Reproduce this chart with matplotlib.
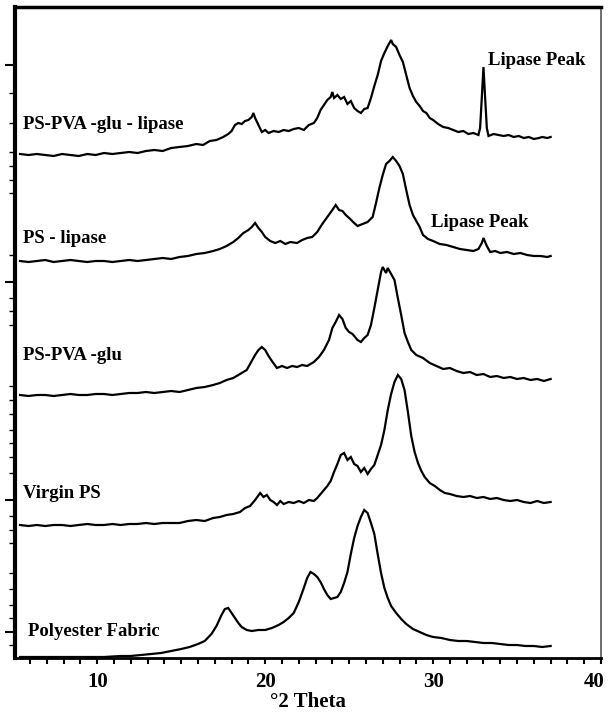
import matplotlib
matplotlib.use("Agg")
import matplotlib.pyplot as plt
import matplotlib.transforms as mtransforms
from matplotlib.ticker import MultipleLocator, FixedLocator

# ---------------- data ----------------
two_theta_lipase_pva = [5.4, 5.9, 6.4, 6.9, 7.4, 7.9, 8.4, 8.9, 9.4, 9.9, 10.4, 10.9, 11.4, 11.9, 12.4, 12.9,
    13.4, 13.9, 14.4, 14.9, 15.4, 15.9, 16.3, 16.7, 17.1, 17.5, 17.8, 18.0, 18.2, 18.4, 18.6, 18.8, 19.0, 19.2,
    19.3, 19.4, 19.6, 19.8, 20.0, 20.2, 20.5, 20.8, 21.1, 21.4, 21.7, 22.0, 22.3, 22.6, 22.9, 23.1, 23.3, 23.5,
    23.7, 23.9, 24.0, 24.1, 24.3, 24.5, 24.7, 24.9, 25.1, 25.3, 25.5, 25.7, 25.9, 26.1, 26.3, 26.5, 26.7, 26.9,
    27.1, 27.3, 27.5, 27.6, 27.8, 28.0, 28.2, 28.4, 28.6, 28.8, 29.0, 29.2, 29.4, 29.6, 29.8, 30.0, 30.3, 30.6,
    30.9, 31.2, 31.5, 31.8, 32.1, 32.4, 32.7, 32.8, 32.9, 33.0, 33.1, 33.2, 33.3, 33.6, 33.9, 34.2, 34.5, 34.8,
    35.1, 35.4, 35.7, 36.0, 36.3, 36.5, 36.8, 37.0]
int_lipase_pva = [504, 503, 504, 503, 502, 504, 503, 502, 504, 503, 505, 504, 505, 506, 505, 507,
    508, 507, 510, 511, 512, 514, 513, 517, 518, 521, 524, 527, 533, 535, 534, 537, 538, 541,
    545, 540, 533, 526, 528, 525, 527, 526, 528, 527, 529, 530, 528, 533, 535, 540, 548, 553,
    558, 561, 566, 560, 563, 559, 561, 554, 557, 550, 547, 545, 549, 550, 560, 572, 583, 597,
    605, 612, 618, 614, 611, 603, 596, 583, 570, 562, 556, 552, 547, 545, 540, 538, 534, 531,
    530, 528, 526, 527, 524, 525, 523, 530, 560, 591, 560, 530, 522, 524, 523, 522, 523, 521,
    522, 520, 521, 519, 520, 521, 520, 521]

two_theta_lipase = [5.4, 5.9, 6.4, 6.9, 7.4, 7.9, 8.4, 8.9, 9.4, 9.9, 10.4, 10.9, 11.4, 11.9, 12.4, 12.9,
    13.4, 13.9, 14.4, 14.9, 15.4, 15.9, 16.4, 16.9, 17.3, 17.7, 18.1, 18.4, 18.7, 19.0, 19.2, 19.4, 19.6, 19.8,
    20.0, 20.3, 20.6, 20.9, 21.2, 21.5, 21.9, 22.2, 22.5, 22.8, 23.1, 23.4, 23.7, 24.0, 24.2, 24.4, 24.6, 24.8,
    25.0, 25.3, 25.5, 25.8, 26.1, 26.4, 26.6, 26.8, 27.0, 27.2, 27.4, 27.6, 27.8, 28.0, 28.2, 28.4, 28.6, 28.8,
    29.0, 29.2, 29.4, 29.7, 30.0, 30.4, 30.8, 31.2, 31.6, 32.0, 32.4, 32.7, 32.9, 33.0, 33.2, 33.4, 33.7, 34.0,
    34.4, 34.8, 35.2, 35.6, 36.0, 36.4, 36.8, 37.0]
int_lipase = [397, 396, 397, 398, 396, 397, 398, 397, 396, 397, 397, 396, 397, 398, 397, 398,
    399, 400, 399, 401, 402, 404, 405, 407, 409, 412, 416, 420, 425, 428, 431, 435, 430, 426,
    421, 417, 415, 417, 414, 416, 415, 418, 420, 421, 426, 434, 441, 448, 453, 448, 447, 443,
    440, 435, 432, 434, 436, 441, 455, 470, 483, 494, 497, 501, 497, 492, 484, 468, 453, 443,
    437, 431, 423, 419, 417, 414, 413, 411, 409, 408, 407, 409, 415, 420, 412, 406, 407, 405,
    406, 404, 405, 403, 402, 402, 401, 402]

two_theta_pva = [5.4, 5.9, 6.4, 6.9, 7.4, 7.9, 8.4, 8.9, 9.4, 9.9, 10.4, 10.9, 11.4, 11.9, 12.4, 12.9,
    13.4, 13.9, 14.4, 14.9, 15.4, 15.9, 16.4, 16.9, 17.3, 17.7, 18.1, 18.5, 18.9, 19.2, 19.4, 19.6, 19.8, 20.0,
    20.2, 20.4, 20.7, 21.0, 21.3, 21.6, 21.9, 22.2, 22.5, 22.9, 23.2, 23.5, 23.8, 24.0, 24.2, 24.4, 24.6, 24.8,
    25.0, 25.2, 25.5, 25.7, 25.9, 26.1, 26.3, 26.5, 26.7, 26.9, 27.0, 27.2, 27.3, 27.5, 27.7, 27.9, 28.1, 28.3,
    28.5, 28.7, 29.0, 29.4, 29.8, 30.2, 30.6, 31.0, 31.4, 31.8, 32.2, 32.6, 33.0, 33.4, 33.8, 34.2, 34.6, 35.0,
    35.4, 35.8, 36.2, 36.6, 37.0]
int_pva = [263, 262, 263, 263, 262, 263, 264, 263, 263, 264, 264, 263, 264, 265, 265, 266,
    265, 266, 267, 266, 268, 270, 271, 273, 275, 278, 280, 284, 288, 297, 303, 308, 311, 308,
    302, 297, 290, 292, 290, 292, 291, 293, 292, 296, 301, 308, 318, 330, 336, 343, 339, 330,
    326, 324, 318, 316, 320, 323, 333, 350, 368, 386, 391, 385, 390, 384, 378, 360, 343, 325,
    316, 308, 303, 300, 295, 292, 289, 290, 287, 285, 286, 283, 284, 281, 282, 280, 281, 279,
    280, 278, 279, 277, 279]

two_theta_virgin = [5.4, 5.9, 6.4, 6.9, 7.4, 7.9, 8.4, 8.9, 9.4, 9.9, 10.4, 10.9, 11.4, 11.9, 12.4, 12.9,
    13.4, 13.9, 14.4, 14.9, 15.4, 15.9, 16.4, 16.9, 17.3, 17.7, 18.1, 18.5, 18.8, 19.1, 19.4, 19.7, 19.9, 20.1,
    20.3, 20.5, 20.7, 20.9, 21.1, 21.4, 21.7, 22.0, 22.3, 22.6, 22.9, 23.1, 23.4, 23.7, 23.9, 24.1, 24.3, 24.5,
    24.7, 24.9, 25.1, 25.3, 25.5, 25.7, 25.9, 26.1, 26.3, 26.5, 26.7, 26.9, 27.1, 27.3, 27.5, 27.7, 27.9, 28.1,
    28.3, 28.5, 28.7, 28.9, 29.1, 29.3, 29.5, 29.8, 30.1, 30.4, 30.7, 31.0, 31.4, 31.8, 32.2, 32.6, 33.0, 33.4,
    33.8, 34.2, 34.6, 35.0, 35.4, 35.8, 36.2, 36.6, 37.0]
int_virgin = [133, 132, 133, 132, 133, 133, 132, 133, 134, 133, 133, 134, 133, 134, 134, 135,
    134, 135, 135, 135, 137, 138, 137, 140, 141, 143, 144, 146, 150, 152, 158, 165, 161, 163,
    158, 156, 153, 157, 154, 156, 155, 157, 155, 158, 157, 160, 166, 172, 177, 186, 194, 203,
    205, 198, 201, 194, 192, 186, 190, 184, 189, 193, 203, 213, 228, 248, 264, 276, 283, 279,
    268, 246, 222, 206, 195, 187, 181, 175, 172, 168, 165, 164, 162, 161, 162, 160, 161, 159,
    160, 158, 157, 158, 156, 155, 157, 155, 156]

two_theta_fabric = [5.4, 6.4, 7.4, 8.4, 9.4, 10.4, 11.4, 12.0, 12.6, 13.2, 13.8, 14.4, 15.0, 15.5, 16.0,
    16.4, 16.8, 17.1, 17.4, 17.6, 17.8, 18.0, 18.2, 18.4, 18.6, 18.9, 19.2, 19.6, 20.0, 20.4, 20.8, 21.1, 21.4,
    21.7, 22.0, 22.3, 22.5, 22.7, 22.9, 23.1, 23.3, 23.5, 23.7, 23.9, 24.1, 24.3, 24.5, 24.7, 24.9, 25.1, 25.3,
    25.5, 25.7, 25.9, 26.1, 26.3, 26.5, 26.7, 26.9, 27.1, 27.3, 27.5, 27.8, 28.1, 28.4, 28.8, 29.2, 29.6, 30.0,
    30.5, 31.0, 31.5, 32.0, 32.5, 33.0, 33.5, 34.0, 34.5, 35.0, 35.5, 36.0, 36.5, 37.0]
int_fabric = [1, 1, 1, 1, 1, 1, 2, 2, 3, 4, 5, 7, 9, 11, 14,
    17, 24, 32, 43, 49, 50, 45, 40, 35, 31, 28, 27, 28, 28, 30, 33, 36, 40,
    45, 56, 70, 80, 86, 84, 81, 76, 69, 63, 59, 60, 61, 66, 75, 86, 104, 120,
    132, 141, 148, 145, 135, 124, 104, 85, 70, 60, 52, 45, 39, 34, 29, 26, 23, 21,
    20, 18, 17, 17, 16, 15, 15, 14, 13, 13, 12, 12, 11, 12]

sample_labels = ["PS-PVA -glu - lipase", "PS - lipase", "PS-PVA -glu", "Virgin PS", "Polyester Fabric"]
x_ticks = [10, 20, 30, 40]
x_label = "°2 Theta"
peak_label = "Lipase Peak"

# ---------------- figure ----------------
W, H = 608, 716
fig = plt.figure(figsize=(W / 100, H / 100), dpi=100)
ax = fig.add_axes([15 / W, (H - 658) / H, (601 - 15) / W, (658 - 7) / H])

serif = ["Liberation Serif", "DejaVu Serif"]
lw = 1.6
series = [(two_theta_lipase_pva, int_lipase_pva), (two_theta_lipase, int_lipase),
          (two_theta_pva, int_pva), (two_theta_virgin, int_virgin), (two_theta_fabric, int_fabric)]
for xs, ys in series:
    ax.plot(xs, ys, color="black", lw=lw, solid_joinstyle="miter")

ax.set_xlim(5.1, 40)
ax.set_ylim(0, 651)

# x ticks
ax.xaxis.set_major_locator(FixedLocator(x_ticks))
ax.xaxis.set_minor_locator(MultipleLocator(1))
ax.set_xticklabels([str(t) for t in x_ticks], fontfamily=serif, fontweight="bold", fontsize=15)
ax.tick_params(axis="x", which="both", direction="out", length=4, width=1.5, pad=6)
ax.set_xlabel(x_label, fontfamily=serif, fontweight="bold", fontsize=15, labelpad=0)

# nudge the last tick label left so it stays inside the figure (as in the original)
last = ax.xaxis.get_major_ticks()[-1].label1
last.set_transform(last.get_transform() + mtransforms.ScaledTranslation(-7 / 100, 0, fig.dpi_scale_trans))

# y ticks (unlabeled)
major_y = [658 - p for p in [65, 282, 500, 632]]
minor_y = [658 - p for p in [93, 123, 152, 166, 180, 193, 255, 298, 311, 325, 386, 400, 414, 430, 443,
                             457, 473, 516, 530, 543, 573, 589, 605, 618, 645]]
ax.yaxis.set_major_locator(FixedLocator(major_y))
ax.yaxis.set_minor_locator(FixedLocator(minor_y))
ax.tick_params(axis="y", which="major", direction="out", length=7, width=1.5, labelleft=False)
ax.tick_params(axis="y", which="minor", direction="out", length=4, width=1.0)

for side, w, c in [("left", 3.0, "black"), ("bottom", 2.0, "black"), ("top", 2.5, "black"), ("right", 1.2, "#555555")]:
    ax.spines[side].set_linewidth(w)
    ax.spines[side].set_color(c)

# sample labels
fs = 13.5
label_pos = [(5.6, 534), (5.6, 420), (5.6, 303), (5.6, 165), (5.9, 27)]
for txt, (lx, ly) in zip(sample_labels, label_pos):
    ax.text(lx, ly, txt, fontfamily=serif, fontweight="bold", fontsize=fs, ha="left", va="center")

ax.text(33.25, 598, peak_label, fontfamily=serif, fontweight="bold", fontsize=fs, ha="left", va="center")
ax.text(29.85, 436, peak_label, fontfamily=serif, fontweight="bold", fontsize=fs, ha="left", va="center")

fig.savefig("out.png", dpi=100)
